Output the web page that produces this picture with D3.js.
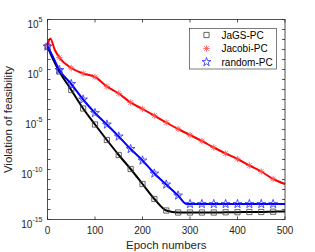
<!DOCTYPE html>
<html>
<head>
<meta charset="utf-8">
<script src="https://cdn.jsdelivr.net/npm/d3@7"></script>
<style>
  body { margin: 0; background: #fff; }
  svg { display: block; font-family: "Liberation Sans", Arial, sans-serif; }
</style>
</head>
<body>
<div id="chart"></div>
<script>
// data (values are log10 of the violation)
const seriesNames = ["JaGS-PC", "Jacobi-PC", "random-PC"];

const jagsEpochs = [0, 12, 25, 50, 75, 100, 125, 150, 175, 200, 225, 250, 275, 300, 325, 350, 375, 400, 425, 450, 475, 500];
const jagsLog = [2.3, 1.0, -0.2, -2.05, -3.9, -5.5, -7.05, -8.55, -9.95, -11.45, -12.95, -14.1, -14.3, -14.3, -14.3, -14.3, -14.28, -14.27, -14.25, -14.25, -14.22, -14.2];

const jacobiEpochs = [0, 6, 15, 25, 50, 75, 100, 125, 150, 175, 200, 225, 250, 275, 300, 325, 350, 375, 400, 425, 450, 475, 500];
const jacobiLog = [2.4, 3.1, 2.0, 1.2, 0.15, -0.4, -0.75, -1.7, -2.4, -3.3, -3.95, -4.62, -5.3, -5.95, -6.55, -7.15, -7.8, -8.4, -8.95, -9.6, -10.2, -10.95, -11.45];

const randomEpochs = [0, 12, 25, 50, 75, 100, 125, 150, 175, 200, 225, 250, 275, 293, 300, 325, 350, 375, 400, 425, 450, 475, 500];
const randomLog = [2.3, 1.2, -0.05, -1.45, -3.0, -4.35, -5.5, -6.7, -7.95, -9.1, -10.4, -11.5, -12.6, -13.45, -13.45, -13.45, -13.45, -13.45, -13.45, -13.45, -13.45, -13.45, -13.45];

const xTicks = [0, 100, 200, 300, 400, 500];
const yTickExps = [-15, -10, -5, 0, 5];

const width = 315;
const height = 252;
const margin = { left: 47.5, right: 30, top: 19.5, bottom: 32.5 };
const ink = "#262626";

const svg = d3.select("#chart").append("svg")
    .attr("width", width)
    .attr("height", height);

const x = d3.scaleLinear().domain([0, 500]).range([margin.left, width - margin.right]);
const y = d3.scaleLog().domain([1e-15, 1e5]).range([height - margin.bottom, margin.top]);

const makeSeries = (epochs, logs) => epochs.map((e, i) => ({ epoch: e, value: Math.pow(10, logs[i]) }));

const series = [
    { name: seriesNames[0], color: "#000000", markColor: "#404040", marker: "square", data: makeSeries(jagsEpochs, jagsLog) },
    { name: seriesNames[1], color: "#ff0000", markColor: "#ff5050", marker: "asterisk", data: makeSeries(jacobiEpochs, jacobiLog) },
    { name: seriesNames[2], color: "#0000ff", markColor: "#2a2aff", marker: "star", data: makeSeries(randomEpochs, randomLog) }
];

// axes box + ticks
const x0 = x.range()[0], x1 = x.range()[1];
const y0 = y.range()[0], y1 = y.range()[1];

const plot = svg.append("g");

const line = d3.line()
    .x(d => x(d.epoch))
    .y(d => y(d.value))
    .curve(d3.curveMonotoneX);

// marker paths
function markerPath(type) {
    if (type === "square") return "M-2.6,-2.6H2.6V2.6H-2.6Z";
    if (type === "asterisk") return "M-3.2,0H3.2M0,-3.2V3.2M-2.3,-2.3L2.3,2.3M-2.3,2.3L2.3,-2.3";
    return d3.symbol().type(d3.symbolStar).size(24)();
}

series.forEach(s => {
    plot.append("path")
        .datum(s.data)
        .attr("fill", "none")
        .attr("stroke", s.color)
        .attr("stroke-width", 2)
        .attr("stroke-linejoin", "round")
        .attr("d", line);

    plot.selectAll(null)
        .data(s.data.filter(d => d.epoch % 25 === 0 && d.epoch < 500))
        .enter()
        .append("path")
        .attr("transform", d => `translate(${x(d.epoch)},${y(d.value)})`)
        .attr("d", markerPath(s.marker))
        .attr("fill", "none")
        .attr("stroke", s.markColor)
        .attr("stroke-width", 0.8);
});

// box
svg.append("rect")
    .attr("x", x0).attr("y", y1)
    .attr("width", x1 - x0).attr("height", y0 - y1)
    .attr("fill", "none")
    .attr("stroke", ink)
    .attr("stroke-width", 0.8);

// y ticks every decade, both sides
const decades = d3.range(-15, 6);
const tickLen = 3;
svg.append("g").selectAll("line")
    .data(decades)
    .enter().append("line")
    .attr("x1", x0).attr("x2", x0 + tickLen)
    .attr("y1", d => y(Math.pow(10, d))).attr("y2", d => y(Math.pow(10, d)))
    .attr("stroke", ink).attr("stroke-width", 0.8);
svg.append("g").selectAll("line")
    .data(decades)
    .enter().append("line")
    .attr("x1", x1).attr("x2", x1 - tickLen)
    .attr("y1", d => y(Math.pow(10, d))).attr("y2", d => y(Math.pow(10, d)))
    .attr("stroke", ink).attr("stroke-width", 0.8);

// x ticks top and bottom
svg.append("g").selectAll("line")
    .data(xTicks)
    .enter().append("line")
    .attr("x1", d => x(d)).attr("x2", d => x(d))
    .attr("y1", y0).attr("y2", y0 - tickLen)
    .attr("stroke", ink).attr("stroke-width", 0.8);
svg.append("g").selectAll("line")
    .data(xTicks)
    .enter().append("line")
    .attr("x1", d => x(d)).attr("x2", d => x(d))
    .attr("y1", y1).attr("y2", y1 + tickLen)
    .attr("stroke", ink).attr("stroke-width", 0.8);

// x tick labels
svg.append("g").selectAll("text")
    .data(xTicks)
    .enter().append("text")
    .attr("x", d => x(d))
    .attr("y", y0 + 14)
    .attr("text-anchor", "middle")
    .attr("font-size", 10)
    .attr("fill", ink)
    .text(d => d);

// y tick labels: 10^k
const yLabels = svg.append("g").selectAll("text")
    .data(yTickExps)
    .enter().append("text")
    .attr("x", x0 - 5)
    .attr("y", d => y(Math.pow(10, d)) + 8)
    .attr("text-anchor", "end")
    .attr("font-size", 10)
    .attr("fill", ink);
yLabels.append("tspan").text("10");
yLabels.append("tspan")
    .attr("dy", -5.5)
    .attr("font-size", 7)
    .text(d => d);

// axis titles
svg.append("text")
    .attr("x", (x0 + x1) / 2)
    .attr("y", 249)
    .attr("text-anchor", "middle")
    .attr("font-size", 11.5)
    .attr("fill", ink)
    .text("Epoch numbers");

svg.append("text")
    .attr("transform", `translate(12,${(y0 + y1) / 2}) rotate(-90)`)
    .attr("text-anchor", "middle")
    .attr("font-size", 11.5)
    .attr("fill", ink)
    .text("Violation of feasibility");

// legend
const legend = svg.append("g");
legend.append("rect")
    .attr("x", 189.5).attr("y", 28.5)
    .attr("width", 87).attr("height", 40.5)
    .attr("fill", "#fff")
    .attr("stroke", ink)
    .attr("stroke-width", 0.6);

series.forEach((s, i) => {
    const ly = 35 + i * 13.5;
    legend.append("path")
        .attr("transform", `translate(206.5,${ly})`)
        .attr("d", markerPath(s.marker))
        .attr("fill", "none")
        .attr("stroke", s.markColor)
        .attr("stroke-width", 0.8);
    legend.append("text")
        .attr("x", 221.5)
        .attr("y", ly + 3.6)
        .attr("font-size", 10)
        .attr("fill", "#000")
        .text(s.name);
});
</script>
</body>
</html>
